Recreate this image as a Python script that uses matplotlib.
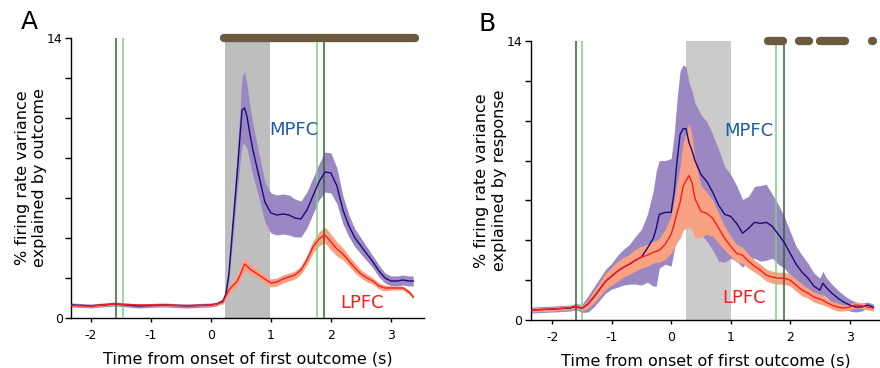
import matplotlib
matplotlib.use('Agg')
import matplotlib.pyplot as plt
import numpy as np

# ---- panel A: variance explained by outcome ----
tA = [-2.33, -2.0, -1.6, -1.2, -0.8, -0.4, 0.0, 0.1, 0.2, 0.25, 0.3, 0.36, 0.43, 0.48, 0.52, 0.56, 0.6,
      0.65, 0.7, 0.8, 0.9, 1.0, 1.1, 1.2, 1.3, 1.4, 1.5, 1.6, 1.7, 1.8, 1.9, 2.0,
      2.1, 2.2, 2.3, 2.4, 2.5, 2.6, 2.7, 2.8, 2.9, 3.0, 3.1, 3.2, 3.3, 3.37]
mpfcA = [0.65, 0.6, 0.7, 0.6, 0.65, 0.6, 0.65, 0.7, 0.85, 1.2, 2.2, 4.4, 6.95, 8.9, 10.4, 10.5, 10.1,
         9.2, 8.4, 7.1, 5.8, 5.25, 5.15, 5.2, 5.15, 5.0, 4.95, 5.4, 6.1, 6.8, 7.3, 7.25,
         6.6, 5.4, 4.6, 4.0, 3.6, 3.2, 2.8, 2.35, 2.0, 1.85, 1.85, 1.9, 1.85, 1.85]
mpfcA_se = [0.1, 0.1, 0.1, 0.1, 0.1, 0.1, 0.1, 0.1, 0.1, 0.15, 0.3, 0.6, 0.9, 1.3, 1.7, 1.8, 1.6,
            1.4, 1.3, 1.1, 1.0, 1.0, 1.0, 1.0, 1.0, 0.95, 0.9, 0.9, 0.9, 0.9, 1.0, 1.0,
            0.9, 0.7, 0.55, 0.45, 0.4, 0.35, 0.3, 0.3, 0.25, 0.25, 0.25, 0.25, 0.25, 0.25]
lpfcA = [0.62, 0.6, 0.7, 0.65, 0.65, 0.62, 0.65, 0.7, 0.8, 1.1, 1.4, 1.6, 1.8, 2.1, 2.4, 2.7, 2.6,
         2.45, 2.35, 2.15, 1.95, 1.75, 1.8, 1.95, 2.05, 2.15, 2.4, 2.9, 3.55, 3.95, 4.15, 3.8,
         3.45, 3.2, 2.85, 2.5, 2.2, 2.0, 1.85, 1.6, 1.5, 1.5, 1.5, 1.5, 1.3, 1.05]
lpfcA_se = [0.05, 0.05, 0.05, 0.05, 0.05, 0.05, 0.05, 0.05, 0.1, 0.15, 0.2, 0.2, 0.25, 0.3, 0.3, 0.35, 0.3,
            0.25, 0.25, 0.2, 0.2, 0.2, 0.2, 0.2, 0.2, 0.2, 0.2, 0.25, 0.3, 0.35, 0.4, 0.4,
            0.35, 0.3, 0.25, 0.25, 0.2, 0.2, 0.15, 0.15, 0.15, 0.1, 0.1, 0.1, 0.1, 0.1]
shadeA = (0.23, 0.98)
greensA = {'dark': [-1.58, 1.88], 'light': [-1.46, 1.77]}
sigA = [(0.22, 3.4)]

# ---- panel B: variance explained by response ----
tB = [-2.36, -2.0, -1.7, -1.6, -1.5, -1.4, -1.3, -1.2, -1.1, -1.0, -0.9, -0.8, -0.7, -0.6, -0.5, -0.4, -0.3,
      -0.25, -0.2, -0.1, 0.0, 0.05, 0.1, 0.15, 0.2, 0.25, 0.3, 0.35, 0.4,
      0.5, 0.6, 0.7, 0.8, 0.9, 1.0, 1.1, 1.2, 1.3, 1.4, 1.5, 1.6, 1.7, 1.8, 1.9, 2.0, 2.1, 2.2, 2.3, 2.4, 2.5,
      2.55, 2.6, 2.7, 2.8, 2.9, 3.0, 3.1, 3.2, 3.3, 3.4]
mpfcB = [0.5, 0.55, 0.6, 0.68, 0.58, 0.8, 1.15, 1.55, 1.95, 2.2, 2.45, 2.65, 2.8, 3.0, 3.15, 3.6, 4.1,
         4.6, 5.3, 5.4, 5.4, 6.4, 8.0, 9.3, 9.6, 9.6, 8.9, 8.5, 8.0,
         7.3, 6.95, 6.4, 5.75, 5.3, 5.2, 4.85, 4.35, 4.6, 4.9, 4.85, 4.9, 4.7, 4.3, 3.9, 3.35, 2.8, 2.4, 2.1, 1.7, 1.5,
         1.85, 1.65, 1.35, 1.1, 0.9, 0.75, 0.65, 0.65, 0.75, 0.65]
mpfcB_se = [0.15, 0.15, 0.15, 0.15, 0.2, 0.4, 0.5, 0.55, 0.6, 0.65, 0.8, 0.9, 1.0, 1.2, 1.4, 1.7, 2.4,
            2.9, 2.7, 2.6, 2.7, 2.9, 3.1, 3.2, 3.2, 3.1, 3.0, 3.0, 2.9,
            3.0, 3.0, 2.9, 2.8, 2.4, 2.1, 1.9, 1.7, 1.6, 1.8, 1.9, 1.9, 1.6, 1.5, 1.3, 1.1, 0.9, 0.85, 0.75, 0.65, 0.6,
            0.6, 0.5, 0.45, 0.4, 0.35, 0.3, 0.25, 0.2, 0.15, 0.15]
lpfcB = [0.5, 0.55, 0.62, 0.7, 0.58, 0.8, 1.15, 1.55, 1.95, 2.2, 2.45, 2.65, 2.8, 3.0, 3.15, 3.25, 3.4,
         3.45, 3.5, 3.8, 4.3, 4.8, 5.4, 5.9, 6.7, 7.0, 7.25, 6.9, 6.1,
         5.45, 5.35, 5.1, 4.6, 4.1, 3.7, 3.35, 3.25, 2.95, 2.7, 2.5, 2.25, 2.15, 2.1, 2.1, 2.0, 1.75, 1.5, 1.35, 1.15, 1.05,
         1.0, 0.9, 0.75, 0.65, 0.6, 0.65, 0.75, 0.72, 0.65, 0.6]
lpfcB_se = [0.1, 0.1, 0.1, 0.1, 0.12, 0.2, 0.3, 0.35, 0.4, 0.45, 0.5, 0.5, 0.5, 0.55, 0.55, 0.55, 0.55,
            0.55, 0.6, 0.75, 0.95, 1.2, 1.5, 1.8, 2.2, 2.4, 2.6, 2.4, 2.0,
            1.3, 1.05, 0.9, 0.75, 0.6, 0.5, 0.45, 0.4, 0.35, 0.3, 0.3, 0.3, 0.3, 0.3, 0.3, 0.3, 0.3, 0.3, 0.25, 0.25, 0.25,
            0.25, 0.2, 0.2, 0.2, 0.15, 0.15, 0.15, 0.15, 0.15, 0.15]
shadeB = (0.25, 1.0)
greensB = {'dark': [-1.6, 1.89], 'light': [-1.49, 1.77]}
sigB = [(1.62, 1.88), (2.15, 2.31), (2.5, 2.93), (3.37, 3.39)]

purple_band = '#9b87c1'
orange_band = '#f9a283'
navy = '#1a0a7a'
red = '#ff1a1a'
mpfc_txt = '#1f5da8'
dot_col = '#6b5a3e'

fig = plt.figure(figsize=(8.8, 3.68), dpi=100)
axA = fig.add_axes([0.0807, 0.1359, 0.4011, 0.7609])
axB = fig.add_axes([0.6031, 0.1304, 0.3969, 0.7582])


def draw(ax, t, m, mse, l, lse, shade, shade_col, greens, sig, xlim, ylab, mpos, lpos):
    t = np.array(t)
    m, mse, l, lse = map(np.array, (m, mse, l, lse))
    ax.axvspan(shade[0], shade[1], ymin=0, ymax=1, color=shade_col, lw=0, zorder=0)
    ax.fill_between(t, m - mse, m + mse, color=purple_band, lw=0, zorder=1)
    ax.fill_between(t, l - lse, l + lse, color=orange_band, lw=0, zorder=2)
    for x in greens['dark']:
        ax.axvline(x, color='#2d6a2d', lw=1.1, zorder=3)
    for x in greens['light']:
        ax.axvline(x, color='#80d080', lw=1.1, zorder=3)
    ax.plot(t, m, color=navy, lw=1.0, zorder=4)
    ax.plot(t, l, color=red, lw=1.0, zorder=5)
    for s, e in sig:
        ax.plot([s, e], [14, 14], color=dot_col, lw=6, solid_capstyle='round',
                clip_on=False, zorder=6)
    ax.text(mpos[0], mpos[1], 'MPFC', color=mpfc_txt, fontsize=13, va='center', ha='left')
    ax.text(lpos[0], lpos[1], 'LPFC', color=red, fontsize=13, va='center', ha='left')
    ax.set_xlim(*xlim)
    ax.set_ylim(0, 14)
    ax.set_yticks(range(0, 15, 2))
    ax.set_yticklabels(['0', '', '', '', '', '', '', '14'])
    ax.set_xticks([-2, -1, 0, 1, 2, 3])
    ax.set_xticklabels(['-2', '-1', '0', '1', '2', '3'])
    ax.tick_params(axis='y', length=4, width=1, labelsize=9, pad=2)
    ax.tick_params(axis='x', length=3, width=1, labelsize=9, pad=5)
    for sp in ['top', 'right']:
        ax.spines[sp].set_visible(False)
    ax.spines['left'].set_linewidth(1)
    ax.spines['bottom'].set_linewidth(1)
    ax.set_xlabel('Time from onset of first outcome (s)', fontsize=11.5, labelpad=7)
    ax.set_ylabel(ylab, fontsize=11.5, labelpad=0, linespacing=1.2)


draw(axA, tA, mpfcA, mpfcA_se, lpfcA, lpfcA_se, shadeA, '#bebebe', greensA, sigA,
     (-2.33, 3.55), '% firing rate variance\nexplained by outcome', (0.97, 9.4), (2.15, 0.75))
draw(axB, tB, mpfcB, mpfcB_se, lpfcB, lpfcB_se, shadeB, '#cbcbcb', greensB, sigB,
     (-2.36, 3.51), '% firing rate variance\nexplained by response', (0.9, 9.5), (0.86, 1.1))

fig.text(0.033, 0.94, 'A', fontsize=18, ha='center', va='center')
fig.text(0.553, 0.935, 'B', fontsize=18, ha='center', va='center')

fig.savefig('out.png', dpi=100)
